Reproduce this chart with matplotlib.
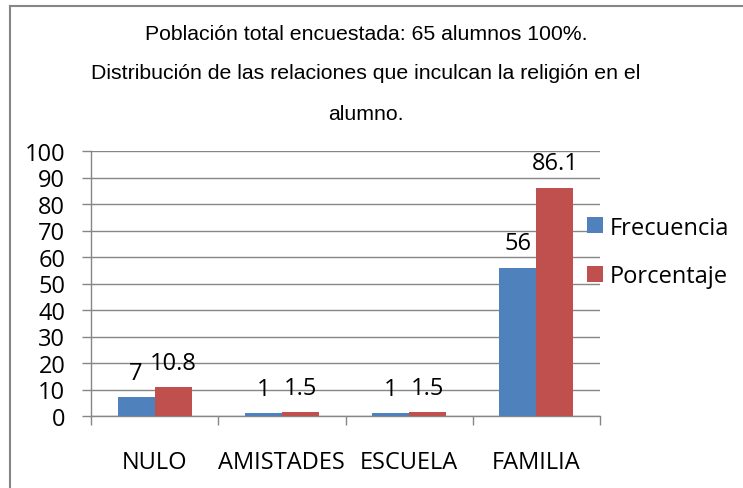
import numpy as np
import matplotlib.pyplot as plt
from matplotlib.lines import Line2D

categorias = ['NULO', 'AMISTADES', 'ESCUELA', 'FAMILIA']
frecuencia = [7, 1, 1, 56]
porcentaje = [10.8, 1.5, 1.5, 86.1]
titulo = ['Población total encuestada: 65 alumnos 100%.',
          'Distribución de las relaciones que inculcan la religión en el',
          'alumno.']

azul = '#4F81BD'
rojo = '#C0504D'
gris = '#868686'

W, H = 743, 489
fig = plt.figure(figsize=(W / 100, H / 100), dpi=100)
ax = fig.add_axes([91 / W, 72 / H, 509 / W, 265 / H])

x = np.arange(len(categorias))
w = 0.29
b1 = ax.bar(x - w / 2, frecuencia, w, color=azul, label='Frecuencia', zorder=3)
b2 = ax.bar(x + w / 2, porcentaje, w, color=rojo, label='Porcentaje', zorder=3)

fuente = 'Open Sans'
tam = 17
for barras, vals in [(b1, frecuencia), (b2, porcentaje)]:
    for r, v in zip(barras, vals):
        ax.annotate(f'{v:g}', (r.get_x() + r.get_width() / 2, v),
                    xytext=(0, 9), textcoords='offset points',
                    ha='center', va='bottom', fontsize=tam, family=fuente)

ax.set_xlim(-0.5, len(categorias) - 0.5)
ax.set_ylim(0, 100)
ax.set_yticks(np.arange(0, 101, 10))
ax.grid(axis='y', color=gris, lw=1, zorder=0)

ax.set_xticks(np.arange(-0.5, len(categorias)), labels=[])
ax.set_xticks(x, labels=categorias, minor=True)
ax.tick_params(axis='x', which='major', length=6.5, color=gris, width=1)
ax.tick_params(axis='x', which='minor', length=0, pad=24.5, labelsize=tam)
ax.tick_params(axis='y', length=6.5, color=gris, width=1, pad=12, labelsize=tam)
for lab in ax.get_xticklabels(minor=True) + ax.get_yticklabels():
    lab.set_family(fuente)

for s in ['top', 'right']:
    ax.spines[s].set_visible(False)
for s in ['left', 'bottom']:
    ax.spines[s].set_color(gris)
    ax.spines[s].set_linewidth(1)

leg = fig.legend(handles=[b1, b2], loc='center left',
                 bbox_to_anchor=(566 / W, 1 - 253 / H), frameon=False,
                 handlelength=0.65, handleheight=0.65, handletextpad=0.3,
                 labelspacing=1.05, prop={'family': fuente, 'size': tam})

for i, t in enumerate(titulo):
    fig.text(366 / W, 1 - (34 + 40 * i) / H, t, ha='center', va='center',
             family='Liberation Sans', fontsize=15.3)

# marco del grafico (solo se ve arriba y a la izquierda)
fig.add_artist(Line2D([10 / W, 10 / W], [0, 1 - 7 / H], color=gris, lw=1.5))
fig.add_artist(Line2D([10 / W, 1], [1 - 7 / H, 1 - 7 / H], color=gris, lw=1.5))

fig.savefig('out.png', dpi=100)
